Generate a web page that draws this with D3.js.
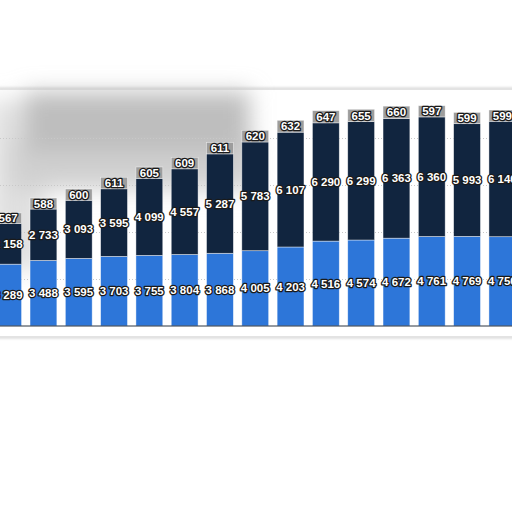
<!DOCTYPE html>
<html>
<head>
<meta charset="utf-8">
<script src="https://cdn.jsdelivr.net/npm/d3@7"></script>
<style>
  html, body { margin: 0; padding: 0; background: #fff; }
  svg { display: block; }
  .seg-label { font-family: "Liberation Sans", Arial, sans-serif; font-weight: bold; font-size: 11.5px; fill: #fff; stroke: #1a1a1a; stroke-width: 2.6px; paint-order: stroke; stroke-linejoin: round; }
  .grid line { stroke: #c8c8c8; stroke-dasharray: 1 2; }
  .grid .domain, .grid text { display: none; }
</style>
</head>
<body>
<div id="chart-container"></div>
<script>
// Data (the picture is cropped at both sides).
const categories = ["2005", "2006", "2007", "2008", "2009", "2010", "2011", "2012", "2013", "2014", "2015", "2016", "2017", "2018", "2019"];
const blueValues = [3289, 3488, 3595, 3703, 3755, 3804, 3868, 4005, 4203, 4516, 4574, 4672, 4761, 4769, 4750];
const navyValues = [2158, 2733, 3093, 3595, 4099, 4557, 5287, 5783, 6107, 6290, 6299, 6363, 6360, 5993, 6140];
const grayValues = [567, 588, 600, 611, 605, 609, 611, 620, 632, 647, 655, 660, 597, 599, 599];
const gridTicks = [2500, 5000, 7500, 10000];

const seriesKeys = ["blue", "navy", "gray"];
const colors = { blue: "#2d76d9", navy: "#11253f", gray: "#9d9d9d" };

let fWidth = 512, fHeight = 512;
let plotTop = 91, plotBottom = 326;

// Rows for the stack.
const rows = categories.map((c, i) => ({ cat: c, blue: blueValues[i], navy: navyValues[i], gray: grayValues[i] }));
const stacked = d3.stack().keys(seriesKeys)(rows);

// Scales.
const xScale = d3.scaleBand()
  .domain(categories)
  .range([-9.5, 520])
  .paddingInner(0.24)
  .paddingOuter(0.12);

const yScale = d3.scaleLinear()
  .domain([0, 12500])
  .range([plotBottom, plotTop]);

const fmt = v => d3.format(",")(v).replace(/,/g, " ");

// Svg canvas.
const svg = d3.select("#chart-container").append("svg")
  .attr("width", fWidth)
  .attr("height", fHeight);

const defs = svg.append("defs");
defs.append("filter").attr("id", "blur").attr("x", "-50%").attr("y", "-50%").attr("width", "200%").attr("height", "200%")
  .append("feGaussianBlur").attr("stdDeviation", 11);
defs.append("filter").attr("id", "soft").attr("x", "-10%").attr("y", "-10%").attr("width", "120%").attr("height", "120%")
  .append("feGaussianBlur").attr("stdDeviation", 1.5);

// Panel with soft edge.
svg.append("rect")
  .attr("x", -20).attr("y", 89).attr("width", 560).attr("height", 248)
  .attr("fill", "none").attr("stroke", "#c4c4c4").attr("stroke-width", 2)
  .attr("filter", "url(#soft)");
svg.append("rect")
  .attr("x", -20).attr("y", 90).attr("width", 560).attr("height", 246)
  .attr("fill", "#fff");

// Blurred background patch behind the bars.
const haze = svg.append("g").attr("filter", "url(#blur)");
haze.append("rect").attr("x", -10).attr("y", 100).attr("width", 55).attr("height", 170).attr("fill", "#e0e0e0");
haze.append("rect").attr("x", 10).attr("y", 140).attr("width", 245).attr("height", 50).attr("fill", "#d0d0d0");
haze.append("rect").attr("x", 25).attr("y", 92).attr("width", 225).attr("height", 60).attr("fill", "#bebebe");

// Grid lines.
svg.append("g")
  .attr("class", "grid")
  .call(d3.axisLeft(yScale).tickValues(gridTicks).tickSize(-fWidth).tickFormat(""));

// Bars.
const layers = svg.append("g").attr("id", "chart-bars")
  .selectAll("g")
  .data(stacked)
  .enter()
  .append("g")
    .attr("fill", d => colors[d.key]);

layers.selectAll("rect")
  .data(d => d)
  .enter()
  .append("rect")
    .attr("x", d => xScale(d.data.cat))
    .attr("y", d => yScale(d[1]))
    .attr("width", xScale.bandwidth())
    .attr("height", d => yScale(d[0]) - yScale(d[1]))
    .attr("stroke", "#ffffff")
    .attr("stroke-opacity", 0.6)
    .attr("stroke-width", 0.7);

// Baseline.
svg.append("line")
  .attr("x1", 0).attr("x2", fWidth)
  .attr("y1", yScale(0)).attr("y2", yScale(0))
  .attr("stroke", "#2a3440").attr("stroke-width", 1);

// Segment labels.
const labels = svg.append("g").attr("id", "chart-labels");
stacked.forEach(layer => {
  labels.selectAll(".lbl-" + layer.key)
    .data(layer)
    .enter()
    .append("text")
      .attr("class", "seg-label lbl-" + layer.key)
      .attr("x", d => xScale(d.data.cat) + xScale.bandwidth() / 2)
      .attr("y", d => (yScale(d[0]) + yScale(d[1])) / 2)
      .attr("dy", "0.36em")
      .attr("text-anchor", "middle")
      .text(d => fmt(d.data[layer.key]));
});
</script>
</body>
</html>
